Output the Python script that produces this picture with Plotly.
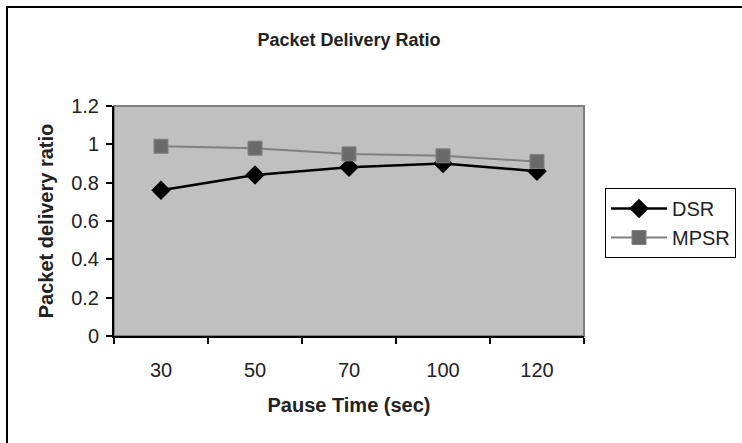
import plotly.graph_objects as go

pause_times = ["30", "50", "70", "100", "120"]
dsr = [0.76, 0.84, 0.88, 0.90, 0.86]
mpsr = [0.99, 0.98, 0.95, 0.94, 0.91]
y_ticks = [0, 0.2, 0.4, 0.6, 0.8, 1, 1.2]
y_tick_labels = ["0", "0.2", "0.4", "0.6", "0.8", "1", "1.2"]

W, H = 742, 443
L, R, T, B = 114, 158, 106, 107
pw, ph = W - L - R, H - T - B

FONT = "Liberation Sans, Arial, sans-serif"

fig = go.Figure()
fig.add_trace(go.Scatter(
    x=pause_times, y=dsr, name="DSR", mode="lines+markers",
    line=dict(color="#000000", width=2.5),
    marker=dict(symbol="diamond", size=15, color="#000000"),
    legendgroup="a",
))
fig.add_trace(go.Scatter(
    x=pause_times, y=mpsr, name="MPSR", mode="lines+markers",
    line=dict(color="#808080", width=2),
    marker=dict(symbol="square", size=14, color="#6a6a6a",
                line=dict(color="#808080", width=1)),
    legendgroup="b",
))

# plot area border (grey top/right)
fig.add_shape(type="rect", xref="paper", yref="paper", x0=0, x1=1, y0=0, y1=1,
              line=dict(color="#808080", width=2), layer="below")
# outer chart frame
fig.add_shape(type="rect", xref="paper", yref="paper",
              x0=(7 - L) / pw, x1=(W + 20 - L) / pw,
              y0=-(H + 20 - T - ph) / ph, y1=(T + ph - 7) / ph,
              line=dict(color="#000000", width=2))

fig.update_layout(
    width=W, height=H,
    margin=dict(l=L, r=R, t=T, b=B, autoexpand=False),
    paper_bgcolor="white", plot_bgcolor="#c0c0c0",
    font=dict(family=FONT, color="#000000", size=20),
    title=dict(text="<b>Packet Delivery Ratio</b>", font=dict(size=18, family=FONT, color="#222"),
               x=0.5, xref="paper", xanchor="center",
               y=1 - 40 / H, yref="container", yanchor="middle"),
    showlegend=True,
    legend=dict(x=(605 - L) / pw, xanchor="left", y=(T + ph - 188) / ph, yanchor="top",
                bordercolor="#000000", borderwidth=1, bgcolor="white",
                font=dict(size=20, family=FONT, color="#222"), tracegroupgap=0,
                traceorder="grouped", itemwidth=56),
    xaxis=dict(type="category", range=[-0.5, 4.5], tickson="boundaries",
               ticks="outside", ticklen=6, tickcolor="#000", tickwidth=1.5,
               showline=True, linecolor="#000", linewidth=2, showgrid=False,
               zeroline=False, ticklabelstandoff=15,
               tickfont=dict(size=20, color="#222"),
               title=dict(text="<b>Pause Time (sec)</b>", font=dict(size=20, color="#222"), standoff=18)),
    yaxis=dict(range=[0, 1.2], tickvals=y_ticks, ticktext=y_tick_labels,
               ticks="outside", ticklen=6, tickcolor="#000", tickwidth=1.5,
               showline=True, linecolor="#000", linewidth=2, showgrid=False,
               zeroline=False, ticklabelstandoff=3,
               tickfont=dict(size=20, color="#222"),
               title=dict(text="<b>Packet delivery ratio</b>", font=dict(size=20, color="#222"), standoff=12)),
)

fig.write_html("out.html", config={"displayModeBar": False},
               post_script="document.body.style.margin='0';document.body.style.overflow='hidden';")
